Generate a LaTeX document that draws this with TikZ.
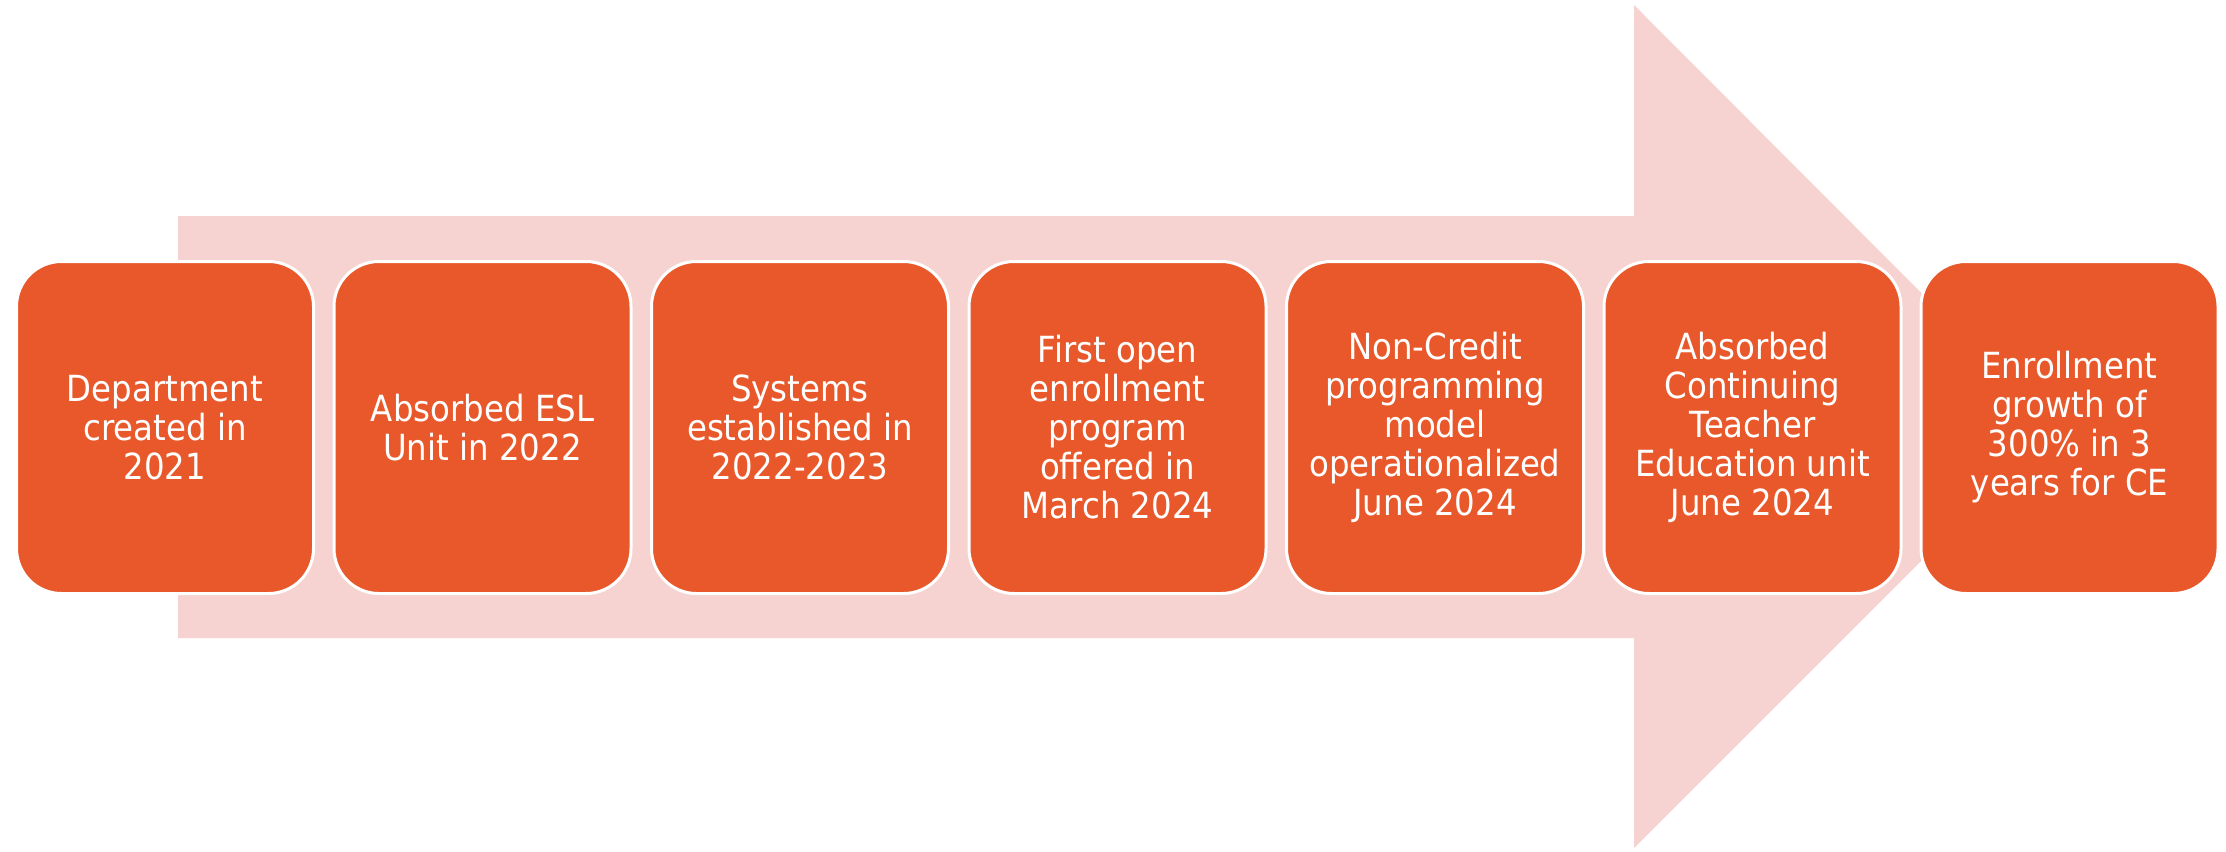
\documentclass[tikz,border=0pt]{standalone}
\usepackage{fontspec}
\setmainfont{DejaVu Sans}[FakeStretch=0.9]
\definecolor{boxorange}{HTML}{E8582A}
\definecolor{arrowpink}{HTML}{F6D3D0}
\begin{document}
\begin{tikzpicture}[x=1pt,y=-1pt,
  stage/.style={rectangle, rounded corners=45pt, fill=boxorange, draw=white,
    line width=3pt, minimum width=297pt, minimum height=332pt, text=white,
    align=center, inner sep=0pt, font=\fontsize{36}{39}\selectfont}]
\useasboundingbox (0,0) rectangle (2226,851);
% broad block arrow behind the stages
\fill[arrowpink] (178,216) -- (1634,216) -- (1634,5) -- (2055,427)
  -- (1634,848) -- (1634,638) -- (178,638) -- cycle;
% timeline stages
\node[stage] (s1) at (165,427.5) {Department\\created in\\2021};
\node[stage] (s2) at (482.5,427.5) {Absorbed ESL\\Unit in 2022};
\node[stage] (s3) at (800,427.5) {Systems\\established in\\2022-2023};
\node[stage] (s4) at (1117.5,427.5) {First open\\enrollment\\program\\offered in\\March 2024};
\node[stage] (s5) at (1435,427.5) {Non-Credit\\programming\\model\\operationalized\\June 2024};
\node[stage] (s6) at (1752.5,427.5) {Absorbed\\Continuing\\Teacher\\Education unit\\June 2024};
\node[stage] (s7) at (2069.5,427.5) {Enrollment\\growth of\\300\% in 3\\years for CE};
\end{tikzpicture}
\end{document}
